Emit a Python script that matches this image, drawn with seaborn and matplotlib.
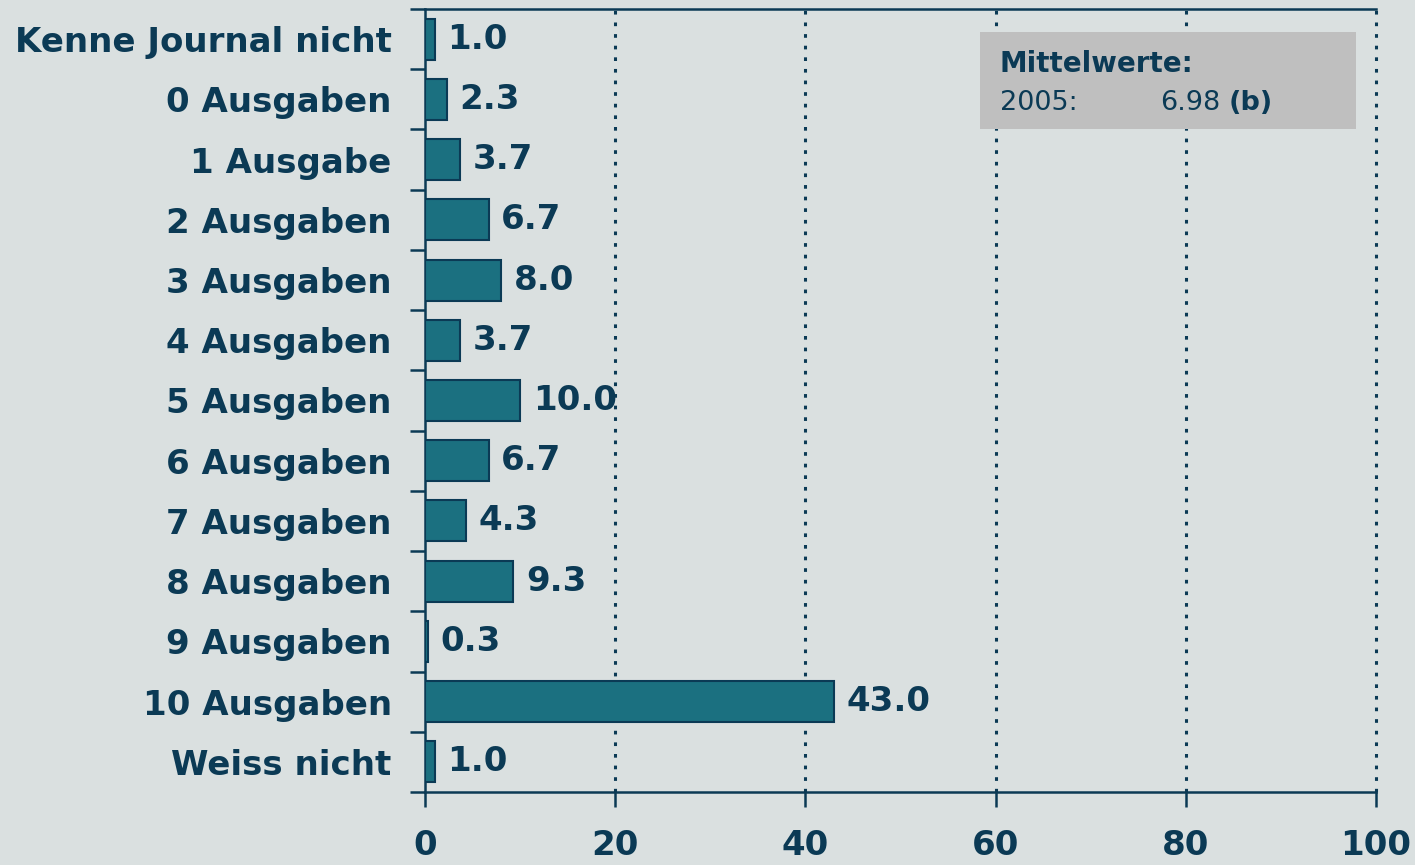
import matplotlib
matplotlib.use('Agg')
import matplotlib.pyplot as plt
import seaborn as sns
import pandas as pd
import numpy as np

categories = ["Kenne Journal nicht", "0 Ausgaben", "1 Ausgabe", "2 Ausgaben",
              "3 Ausgaben", "4 Ausgaben", "5 Ausgaben", "6 Ausgaben",
              "7 Ausgaben", "8 Ausgaben", "9 Ausgaben", "10 Ausgaben",
              "Weiss nicht"]
values = [1.0, 2.3, 3.7, 6.7, 8.0, 3.7, 10.0, 6.7, 4.3, 9.3, 0.3, 43.0, 1.0]
xticks = [0, 20, 40, 60, 80, 100]

bg = "#dae0e0"
navy = "#0b3a55"
teal = "#1b7080"
fs = 24.5

sns.set_style("white")
plt.rcParams['font.family'] = ['DejaVu Sans']
plt.rcParams['xtick.bottom'] = True
plt.rcParams['ytick.left'] = True

df = pd.DataFrame({"cat": categories, "val": values})

fig = plt.figure(figsize=(14.15, 8.65), dpi=100, facecolor=bg)
ax = fig.add_axes([0.3004, 0.0844, 0.672, 0.9052], facecolor=bg)

sns.barplot(data=df, x="val", y="cat", orient="h", color=teal, width=0.68,
            edgecolor=navy, linewidth=1.5, saturation=1, ax=ax, zorder=3)

ax.set_xlim(0, 100)
ax.set_ylim(len(categories) - 0.5, -0.5)
ax.set_xlabel("")
ax.set_ylabel("")

# dotted vertical grid behind the bars
for x in xticks[1:]:
    ax.axvline(x, color=navy, linestyle=(0, (1.2, 2.6)), linewidth=2.2,
               zorder=1, clip_on=False)

for s in ["left", "bottom", "top"]:
    ax.spines[s].set_color(navy)
    ax.spines[s].set_linewidth(1.8)
ax.spines["right"].set_visible(False)

ax.set_xticks(xticks)
ax.set_xticklabels([str(t) for t in xticks], fontsize=fs, fontweight="bold", color=navy)
ax.tick_params(axis="x", bottom=True, direction="out", length=11, width=1.8,
               color=navy, pad=16)

ax.set_yticks(range(len(categories)))
ax.set_yticklabels(categories, fontsize=fs, fontweight="bold", color=navy)
ax.tick_params(axis="y", which="major", left=True, length=0, pad=24)
ax.set_yticks(np.arange(-0.5, len(categories)), minor=True)
ax.tick_params(axis="y", which="minor", left=True, direction="out", length=11,
               width=1.8, color=navy)

ax.bar_label(ax.containers[0], labels=[f"{v:.1f}" for v in values], padding=9,
             fontsize=fs, fontweight="bold", color=navy)

# mean value box
box = plt.Rectangle((0.5835, 0.8468), 0.395, 0.1239, transform=ax.transAxes,
                    facecolor="#bfbfbf", edgecolor="none", zorder=4)
ax.add_patch(box)
ax.text(0.6045, 0.948, "Mittelwerte:", transform=ax.transAxes, fontsize=20,
        fontweight="bold", color=navy, va="top", zorder=5)
ax.text(0.6045, 0.897, "2005:", transform=ax.transAxes, fontsize=19.5,
        color=navy, va="top", zorder=5)
ax.text(0.836, 0.897, "6.98", transform=ax.transAxes, fontsize=19.5,
        color=navy, va="top", ha="right", zorder=5)
ax.text(0.845, 0.897, "(b)", transform=ax.transAxes, fontsize=19.5,
        fontweight="bold", color=navy, va="top", zorder=5)

fig.savefig("out.png", dpi=100, facecolor=bg)
